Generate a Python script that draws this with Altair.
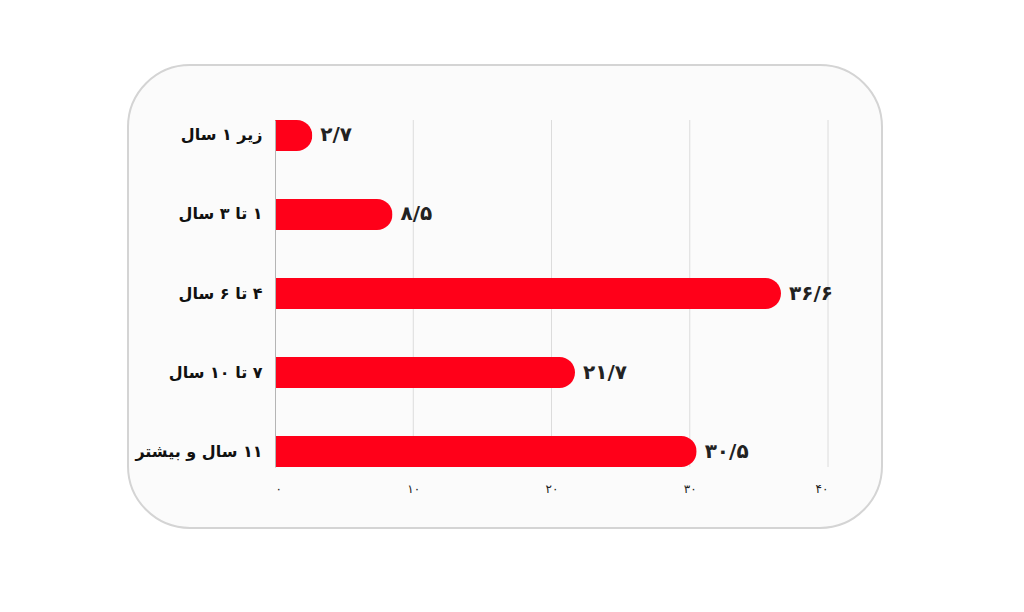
import altair as alt
import pandas as pd

categories = ["زیر ۱ سال", "۱ تا ۳ سال", "۴ تا ۶ سال", "۷ تا ۱۰ سال", "۱۱ سال و بیشتر"]
values = [2.7, 8.5, 36.6, 21.7, 30.5]
value_labels = ["۲/۷", "۸/۵", "۳۶/۶", "۲۱/۷", "۳۰/۵"]
tick_values = [0, 10, 20, 30, 40]
tick_labels = ["۰", "۱۰", "۲۰", "۳۰", "۴۰"]

df = pd.DataFrame({"cat": categories, "val": values, "lab": value_labels})
grid_df = pd.DataFrame({"val": tick_values[1:]})

expr = "''"
for v, l in reversed(list(zip(tick_values, tick_labels))):
    expr = f"datum.value == {v} ? '{l}' : ({expr})"

FONT = "DejaVu Sans"

bg = alt.Chart(alt.Data(values=[{"a": 1}])).mark_rect(
    fill="#fbfbfb", stroke="#d4d4d4", strokeWidth=2, cornerRadius=62
).encode(
    x=alt.value(-147), x2=alt.value(607), y=alt.value(-55), y2=alt.value(408)
)

xenc = alt.X(
    "val:Q",
    scale=alt.Scale(domain=[0, 40], nice=False),
    axis=alt.Axis(
        values=tick_values, labelExpr=expr, grid=False,
        domain=False, ticks=False, title=None, labelFont=FONT, labelFontSize=12,
        labelColor="#222222", labelPadding=16, zindex=1,
    ),
)
yenc = alt.Y(
    "cat:N", sort=None,
    scale=alt.Scale(paddingInner=0.608, paddingOuter=0),
    axis=alt.Axis(
        title=None, ticks=False, domain=True, domainColor="#b5b5b5", grid=False,
        labelFont=FONT, labelFontSize=16, labelFontWeight="bold",
        labelExpr="'\u202b' + datum.label + '\u202c'",
        labelColor="#111111", labelPadding=13, labelAlign="right", zindex=1,
    ),
)

grid = alt.Chart(grid_df).mark_rule(color="#dcdcdc", strokeWidth=1).encode(
    x=xenc, y=alt.value(0), y2=alt.value(347),
)

bars = alt.Chart(df).mark_bar(color="#FF0019", cornerRadiusEnd=16).encode(x=xenc, y=yenc)
text = alt.Chart(df).mark_text(
    align="left", baseline="middle", dx=8, font=FONT, fontSize=20,
    fontWeight="bold", color="#222222",
).encode(x=xenc, y=yenc, text="lab:N")

chart = alt.layer(bg, grid, bars, text).properties(
    width=553, height=347,
    autosize="none",
    padding={"left": 267, "top": 112, "right": 180, "bottom": 90},
).configure_view(stroke=None)

chart.save("out.html", embed_options={"renderer": "svg", "actions": False})
